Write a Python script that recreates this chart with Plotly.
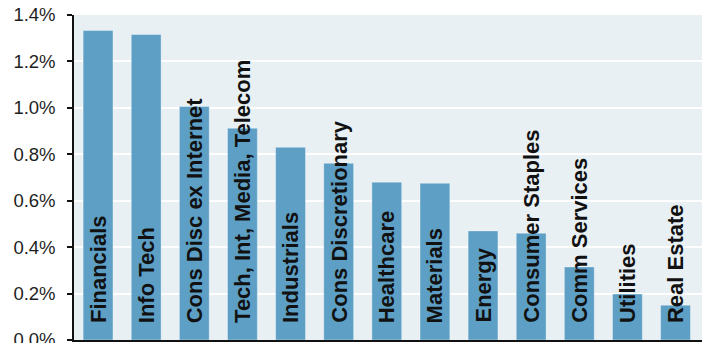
import plotly.graph_objects as go

categories = ["Financials", "Info Tech", "Cons Disc ex Internet", "Tech, Int, Media, Telecom",
              "Industrials", "Cons Discretionary", "Healthcare", "Materials", "Energy",
              "Consumer Staples", "Comm Services", "Utilities", "Real Estate"]
values = [1.333, 1.316, 1.006, 0.912, 0.830, 0.761, 0.680, 0.675, 0.470, 0.460, 0.315, 0.198, 0.150]
tick_vals = [0, 0.2, 0.4, 0.6, 0.8, 1.0, 1.2, 1.4]
tick_text = ["0.0%", "0.2%", "0.4%", "0.6%", "0.8%", "1.0%", "1.2%", "1.4%"]

fig = go.Figure()
fig.add_trace(go.Bar(
    x=categories, y=values,
    marker=dict(color="#5d9fc5", line=dict(color="rgba(255,255,255,0.35)", width=1)),
    width=0.62,
    hoverinfo="skip",
))
for c in categories:
    fig.add_annotation(
        x=c, y=0, xref="x", yref="y", text="<b>%s</b>" % c, textangle=-90,
        showarrow=False, xanchor="center", yanchor="bottom", yshift=15,
        font=dict(family="Liberation Sans, Arial", size=22, color="#111111"),
    )

fig.update_layout(
    width=702, height=343,
    margin=dict(l=74, r=0, t=15, b=3),
    paper_bgcolor="white", plot_bgcolor="#e8f0f4",
    showlegend=False,
    font=dict(family="Liberation Sans, Arial", size=15, color="#222222"),
    xaxis=dict(showticklabels=False, ticks="", showgrid=False, range=[-0.5, 12.55],
               showline=True, linecolor="#111111", linewidth=2, zeroline=False),
    yaxis=dict(range=[0, 1.4], tickvals=tick_vals, ticktext=tick_text,
               showgrid=True, gridcolor="white", gridwidth=2,
               showline=True, linecolor="#111111", linewidth=1.5,
               ticks="outside", ticklen=5, tickcolor="#111111", tickwidth=1.5,
               zeroline=False, automargin=False, ticklabelstandoff=8,
               ticklabeloverflow="allow",
               tickfont=dict(size=18.5, color="#1e1e1e")),
)
fig.write_html("out.html", config={"displayModeBar": False},
               post_script="document.body.style.margin='0';document.body.style.overflow='hidden';")
